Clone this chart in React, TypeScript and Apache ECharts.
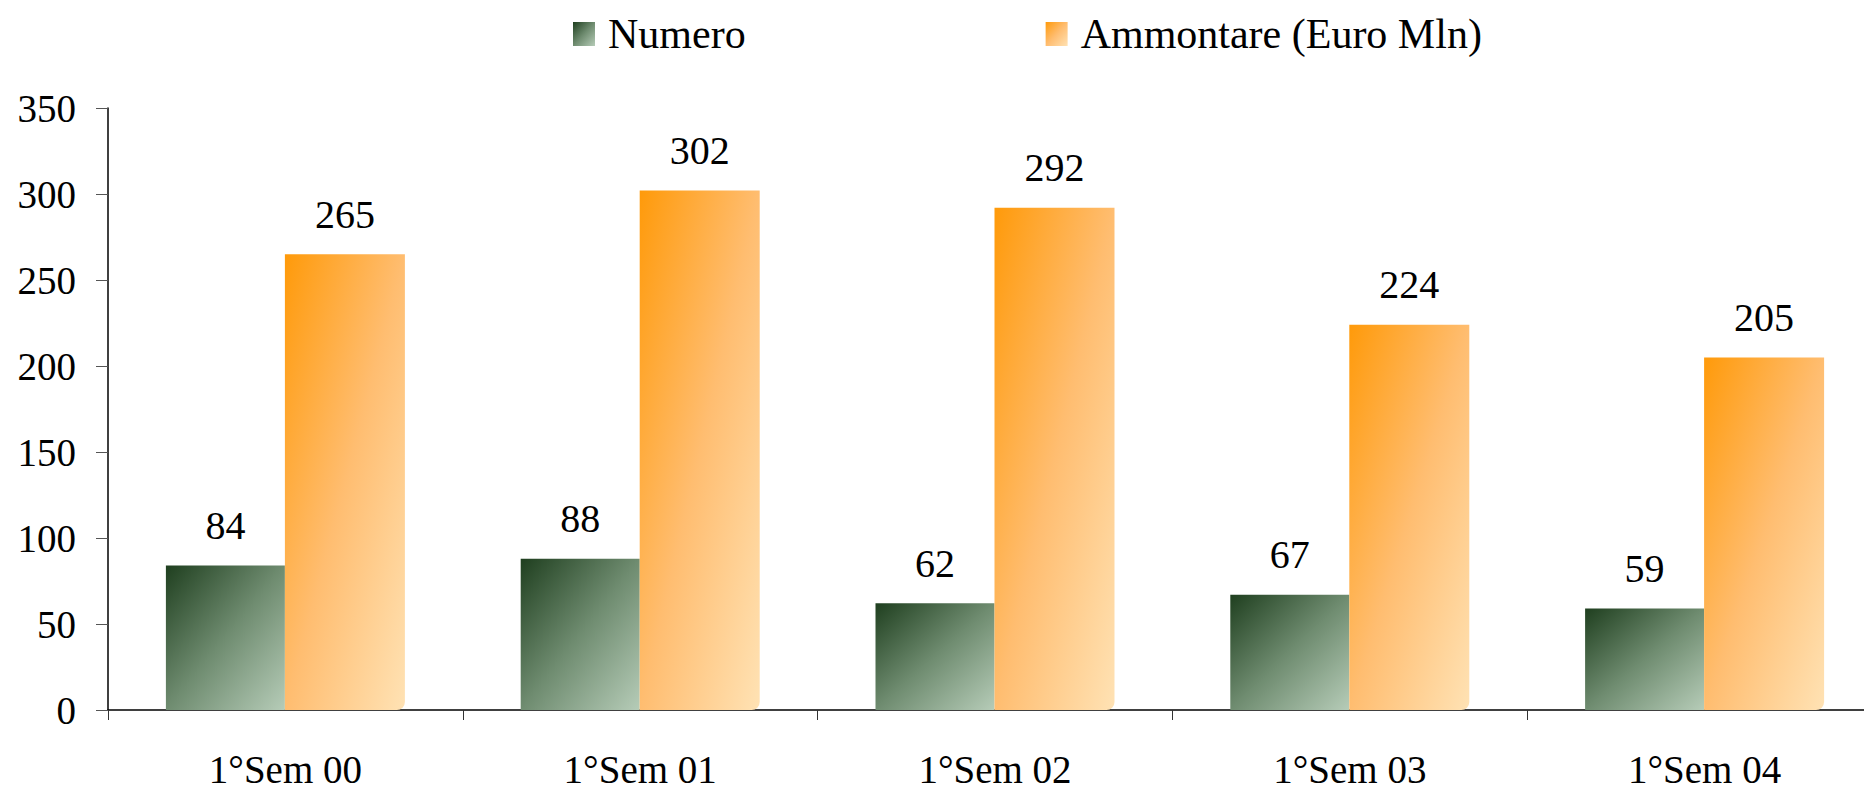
import React, { useEffect, useRef } from "react";
import * as echarts from "echarts";

const categories = ["1°Sem 00", "1°Sem 01", "1°Sem 02", "1°Sem 03", "1°Sem 04"];
const numero = [84, 88, 62, 67, 59];
const ammontare = [265, 302, 292, 224, 205];
const seriesNames = ["Numero", "Ammontare (Euro Mln)"];

const FONT = "'Liberation Serif', 'Times New Roman', serif";

export default function App() {
  const ref = useRef<HTMLDivElement>(null);
  useEffect(() => {
    if (!ref.current) return;
    const chart = echarts.init(ref.current, null, { renderer: "svg" });
    const greenGrad = new echarts.graphic.LinearGradient(0, 0, 1, 1, [
      { offset: 0, color: "#1f3f1f" },
      { offset: 0.5, color: "#6f8c70" },
      { offset: 1, color: "#b6ccb8" },
    ]);
    const orangeGrad = new echarts.graphic.LinearGradient(0, 0, 1, 1, [
      { offset: 0, color: "#ff9a0a" },
      { offset: 0.5, color: "#ffbd70" },
      { offset: 1, color: "#ffe2b4" },
    ]);
    const labelStyle = {
      show: true,
      position: "top" as const,
      distance: 20,
      color: "#000",
      fontFamily: FONT,
      fontSize: 40,
    };
    chart.setOption({
      animation: false,
      backgroundColor: "#fff",
      textStyle: { fontFamily: FONT },
      legend: {
        data: seriesNames,
        left: 568,
        top: 8,
        itemWidth: 22,
        itemHeight: 24,
        itemGap: 300,
        icon: "rect",
        textStyle: {
          fontFamily: FONT,
          fontSize: 42,
          color: "#000",
          padding: [0, 0, 0, 8],
        },
      },
      grid: { left: 108, top: 108, width: 1774, height: 602 },
      xAxis: {
        type: "category",
        data: categories,
        axisLine: { lineStyle: { color: "#000", width: 1.5 } },
        axisTick: { show: true, length: 10, lineStyle: { color: "#333" } },
        axisLabel: {
          fontFamily: FONT,
          fontSize: 39,
          lineHeight: 34,
          color: "#000",
          margin: 42,
        },
      },
      yAxis: {
        type: "value",
        min: 0,
        max: 350,
        interval: 50,
        splitLine: { show: false },
        axisLine: { show: true, lineStyle: { color: "#000", width: 1.5 } },
        axisTick: { show: true, length: 12, lineStyle: { color: "#555" } },
        axisLabel: {
          fontFamily: FONT,
          fontSize: 39,
          color: "#000",
          margin: 32,
        },
      },
      series: [
        {
          name: seriesNames[0],
          type: "bar",
          data: numero,
          barWidth: 119,
          barGap: "0%",
          itemStyle: { color: greenGrad },
          label: labelStyle,
        },
        {
          name: seriesNames[1],
          type: "bar",
          data: ammontare,
          barWidth: 120,
          barGap: "0%",
          itemStyle: { color: orangeGrad, borderRadius: [0, 0, 8, 0] },
          label: labelStyle,
        },
      ],
    });
    return () => chart.dispose();
  }, []);
  return (
    <div
      ref={ref}
      style={{ position: "fixed", left: 0, top: 0, width: 1900, height: 790 }}
    />
  );
}
